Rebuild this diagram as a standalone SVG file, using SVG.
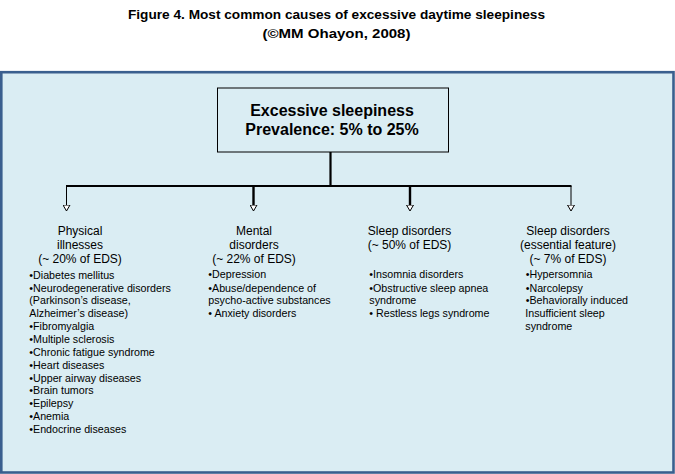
<svg xmlns="http://www.w3.org/2000/svg" width="675" height="474" viewBox="0 0 675 474">
<defs>
<style>
.title{font-family:"Liberation Sans",Arial,sans-serif;font-weight:bold;font-size:13.5px;fill:#000;text-anchor:middle}
.main{font-family:"Liberation Sans",Arial,sans-serif;font-weight:bold;font-size:16px;fill:#000;text-anchor:middle}
.hdr{font-family:"Liberation Sans",Arial,sans-serif;font-size:12px;fill:#000;text-anchor:middle}
.item{font-family:"Liberation Sans",Arial,sans-serif;font-size:10.7px;fill:#000}
.conn{stroke:#000;fill:none}
</style>
<marker id="arr" viewBox="0 0 8 7" refX="4" refY="0.5" markerWidth="8" markerHeight="7" markerUnits="userSpaceOnUse" orient="0">
<path d="M0.5,0.5 L7.5,0.5 L4,6.5 Z" fill="#fff" stroke="#000" stroke-width="1"/>
</marker>
</defs>
<rect width="675" height="474" fill="#fff"/>
<g id="title">
<text class="title" x="336.5" y="19" textLength="417" lengthAdjust="spacingAndGlyphs">Figure 4. Most common causes of excessive daytime sleepiness</text>
<text class="title" x="336.5" y="37.5" textLength="148" lengthAdjust="spacingAndGlyphs">(©MM Ohayon, 2008)</text>
</g>
<g id="panel">
<rect x="1.3" y="72.2" width="672.2" height="400.3" fill="#DAEDF3" stroke="#3A5F8E" stroke-width="2.6"/>
</g>
<g id="connectors">
<line class="conn" x1="330.5" y1="152" x2="330.5" y2="187" stroke-width="2.2"/>
<line class="conn" x1="66" y1="186" x2="571.5" y2="186" stroke-width="2.2"/>
<line class="conn" x1="66.5" y1="186" x2="66.5" y2="205" stroke-width="1" marker-end="url(#arr)"/>
<line class="conn" x1="253.5" y1="186" x2="253.5" y2="205" stroke-width="2.4" marker-end="url(#arr)"/>
<line class="conn" x1="410" y1="186" x2="410" y2="205" stroke-width="2.4" marker-end="url(#arr)"/>
<line class="conn" x1="571" y1="186" x2="571" y2="205" stroke-width="1" marker-end="url(#arr)"/>
</g>
<g id="root">
<rect x="217.5" y="88" width="231" height="64" fill="#DAEDF3" stroke="#000" stroke-width="1"/>
<text class="main" x="332" y="116">Excessive sleepiness</text>
<text class="main" x="332" y="134.5">Prevalence: 5% to 25%</text>
</g>
<g id="physical">
<text class="hdr" x="80" y="235">Physical</text>
<text class="hdr" x="80" y="248.7">illnesses</text>
<text class="hdr" x="80" y="262.5">(~ 20% of EDS)</text>
<text class="item" x="29.3" y="278.7">•Diabetes mellitus</text>
<text class="item" x="29.3" y="291.5">•Neurodegenerative disorders</text>
<text class="item" x="29.3" y="304.4">(Parkinson’s disease,</text>
<text class="item" x="29.3" y="317.2">Alzheimer’s disease)</text>
<text class="item" x="29.3" y="330.1">•Fibromyalgia</text>
<text class="item" x="29.3" y="342.9">•Multiple  sclerosis</text>
<text class="item" x="29.3" y="355.8">•Chronic fatigue syndrome</text>
<text class="item" x="29.3" y="368.6">•Heart diseases</text>
<text class="item" x="29.3" y="381.5">•Upper airway diseases</text>
<text class="item" x="29.3" y="394.3">•Brain tumors</text>
<text class="item" x="29.3" y="407.2">•Epilepsy</text>
<text class="item" x="29.3" y="420">•Anemia</text>
<text class="item" x="29.3" y="432.9">•Endocrine diseases</text>
</g>
<g id="mental">
<text class="hdr" x="254" y="235">Mental</text>
<text class="hdr" x="254" y="248.7">disorders</text>
<text class="hdr" x="254" y="262.5">(~ 22% of EDS)</text>
<text class="item" x="208.3" y="278">•Depression</text>
<text class="item" x="208.3" y="291.5">•Abuse/dependence of</text>
<text class="item" x="208.3" y="304">psycho-active substances</text>
<text class="item" x="208.3" y="317">• Anxiety disorders</text>
</g>
<g id="sleep">
<text class="hdr" x="409.5" y="235">Sleep disorders</text>
<text class="hdr" x="409.5" y="248.7">(~ 50% of EDS)</text>
<text class="item" x="369.3" y="278">•Insomnia  disorders</text>
<text class="item" x="369.3" y="291.5">•Obstructive sleep apnea</text>
<text class="item" x="369.3" y="304">syndrome</text>
<text class="item" x="369.3" y="317">• Restless legs syndrome</text>
</g>
<g id="sleep-essential">
<text class="hdr" x="568" y="235">Sleep disorders</text>
<text class="hdr" x="568" y="248.7">(essential feature)</text>
<text class="hdr" x="568" y="262.5">(~ 7% of EDS)</text>
<text class="item" x="525.7" y="278">•Hypersomnia</text>
<text class="item" x="525.7" y="291.5">•Narcolepsy</text>
<text class="item" x="525.7" y="304">•Behaviorally induced</text>
<text class="item" x="525.3" y="317">Insufficient sleep</text>
<text class="item" x="525.3" y="330">syndrome</text>
</g>
</svg>
